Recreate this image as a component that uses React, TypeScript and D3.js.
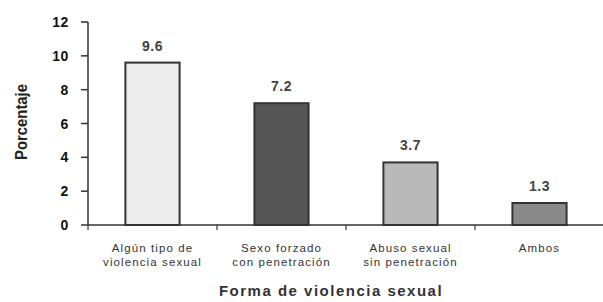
import { useEffect, useRef } from "react";
import * as d3 from "d3";

const categories = [
  ["Algún tipo de", "violencia sexual"],
  ["Sexo forzado", "con penetración"],
  ["Abuso sexual", "sin penetración"],
  ["Ambos"],
];
const values = [9.6, 7.2, 3.7, 1.3];
const fills = ["#ececec", "#555555", "#b9b9b9", "#8a8a8a"];
const yTicks = [0, 2, 4, 6, 8, 10, 12];

export default function App() {
  const svgRef = useRef<SVGSVGElement>(null);

  useEffect(() => {
    if (!svgRef.current) return;
    const svg = d3.select(svgRef.current);
    svg.selectAll("*").remove();

    const left = 88;
    const right = 604;
    const top = 22;
    const bottom = 225;

    const x = d3
      .scaleBand<number>()
      .domain(d3.range(values.length))
      .range([left, right])
      .paddingInner(0.58)
      .paddingOuter(0.29);
    const step = x.step();

    const y = d3.scaleLinear().domain([0, 12]).range([bottom, top]);

    const font = "'Liberation Sans', Arial, sans-serif";

    // Y axis
    const yAxis = svg.append("g");
    yAxis
      .append("line")
      .attr("x1", left)
      .attr("x2", left)
      .attr("y1", y(12))
      .attr("y2", y(0))
      .attr("stroke", "#333")
      .attr("stroke-width", 1.5);
    yTicks.forEach((t) => {
      yAxis
        .append("line")
        .attr("x1", left - 7)
        .attr("x2", left)
        .attr("y1", y(t))
        .attr("y2", y(t))
        .attr("stroke", "#333")
        .attr("stroke-width", 1.5);
      yAxis
        .append("text")
        .attr("x", left - 19)
        .attr("y", y(t) + 5)
        .attr("text-anchor", "end")
        .attr("font-family", font)
        .attr("font-weight", "bold")
        .attr("font-size", 14)
        .attr("letter-spacing", 0.6)
        .attr("fill", "#111")
        .text(t);
    });

    // X axis
    svg
      .append("line")
      .attr("x1", left)
      .attr("x2", right)
      .attr("y1", y(0))
      .attr("y2", y(0))
      .attr("stroke", "#333")
      .attr("stroke-width", 1.5);
    d3.range(values.length).forEach((i) => {
      const bx = left + i * step;
      svg
        .append("line")
        .attr("x1", bx)
        .attr("x2", bx)
        .attr("y1", y(0))
        .attr("y2", y(0) + 5)
        .attr("stroke", "#333")
        .attr("stroke-width", 1.2);
    });

    // Bars
    svg
      .selectAll(".bar")
      .data(values)
      .join("rect")
      .attr("class", "bar")
      .attr("x", (_, i) => x(i)!)
      .attr("y", (d) => y(d))
      .attr("width", x.bandwidth())
      .attr("height", (d) => y(0) - y(d))
      .attr("fill", (_, i) => fills[i])
      .attr("stroke", "#333")
      .attr("stroke-width", 2);

    // Value labels
    svg
      .selectAll(".val")
      .data(values)
      .join("text")
      .attr("class", "val")
      .attr("x", (_, i) => x(i)! + x.bandwidth() / 2)
      .attr("y", (d) => y(d) - 12)
      .attr("text-anchor", "middle")
      .attr("font-family", font)
      .attr("font-weight", "bold")
      .attr("font-size", 14)
      .attr("letter-spacing", 0.5)
      .attr("fill", "#444")
      .text((d) => d.toFixed(1));

    // Category labels
    categories.forEach((lines, i) => {
      const cx = x(i)! + x.bandwidth() / 2;
      const t = svg
        .append("text")
        .attr("x", cx)
        .attr("y", 252)
        .attr("text-anchor", "middle")
        .attr("font-family", font)
        .attr("font-size", 11.5)
        .attr("letter-spacing", 1.1)
        .attr("fill", "#333");
      lines.forEach((line, j) => {
        t.append("tspan")
          .attr("x", cx)
          .attr("dy", j === 0 ? 0 : 14)
          .text(line);
      });
    });

    // Axis titles
    svg
      .append("text")
      .attr("x", 331)
      .attr("y", 296)
      .attr("text-anchor", "middle")
      .attr("font-family", font)
      .attr("font-weight", "bold")
      .attr("font-size", 15)
      .attr("letter-spacing", 1.5)
      .attr("fill", "#333")
      .text("Forma de violencia sexual");

    svg
      .append("text")
      .attr("transform", `translate(27,122) rotate(-90)`)
      .attr("text-anchor", "middle")
      .attr("font-family", "'Liberation Sans Narrow', 'Liberation Sans', sans-serif")
      .attr("font-weight", "bold")
      .attr("font-size", 16)
      .attr("textLength", 76)
      .attr("lengthAdjust", "spacingAndGlyphs")
      .attr("fill", "#222")
      .text("Porcentaje");
  }, []);

  return (
    <svg
      ref={svgRef}
      width={603}
      height={302}
      style={{ position: "absolute", left: 0, top: 0, background: "#fff" }}
    />
  );
}
